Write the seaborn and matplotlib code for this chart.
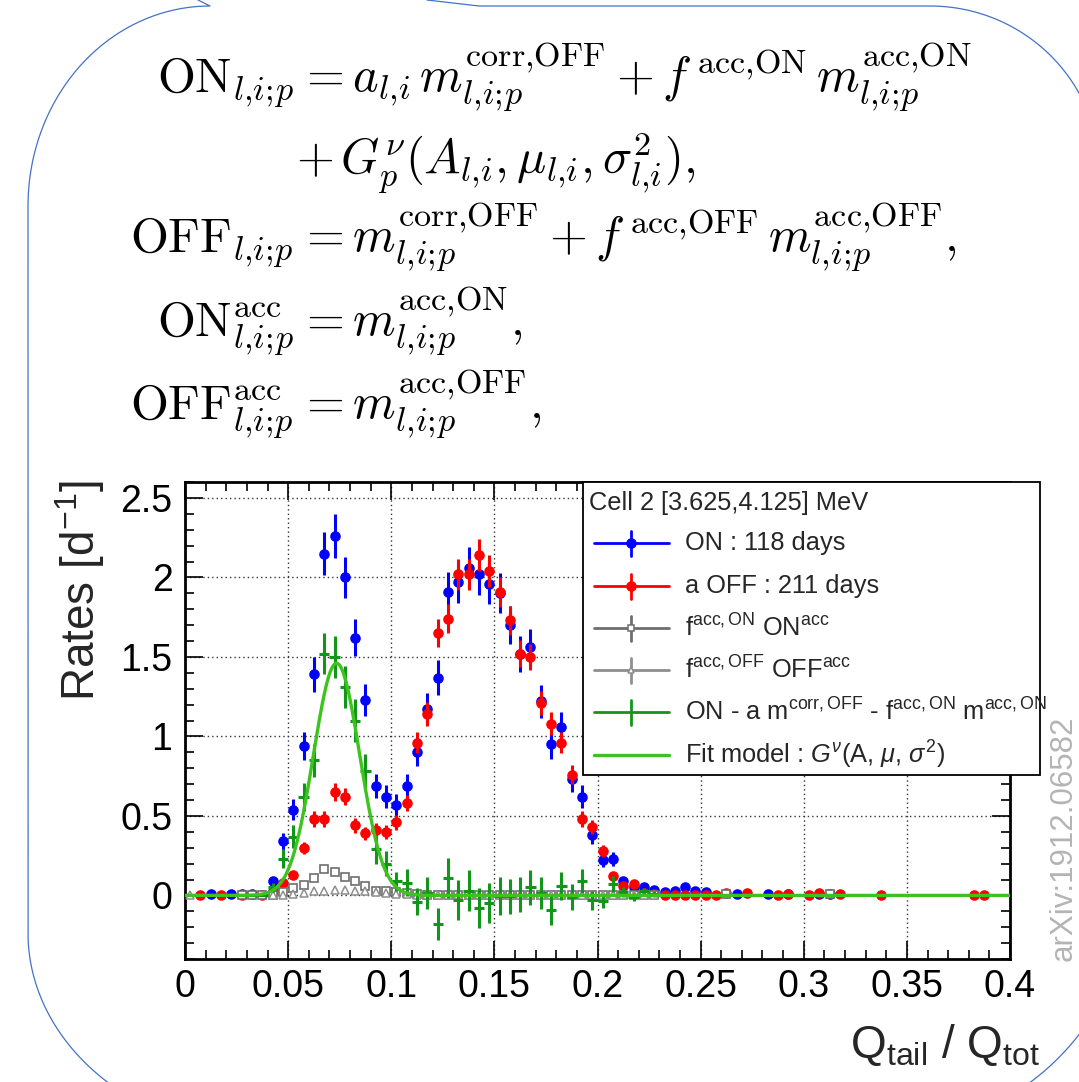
import numpy as np
import pandas as pd
import matplotlib
matplotlib.use("Agg")
import matplotlib.pyplot as plt
import seaborn as sns
from matplotlib.patches import Rectangle
from matplotlib.ticker import MultipleLocator, FuncFormatter

# ---------------------------------------------------------------- data
nan = np.nan
BIN_WIDTH = 0.005
# bin centres of the Q_tail/Q_tot histogram (0.0025 ... 0.2275)
q_bins = np.round(0.0025 + BIN_WIDTH * np.arange(46), 4)

# ON data, 118 days [1/day]
on_rate = [nan, nan, 0.01, nan, 0.01, 0.01, 0.01, nan, 0.09, 0.34,
           0.54, 0.94, 1.39, 2.15, 2.26, 2.00, 1.62, 1.23, 0.69, 0.62,
           0.57, 0.69, 0.90, 1.17, 1.37, 1.91, 1.97, 2.06, 2.02, 1.96,
           1.90, 1.70, 1.52, 1.56, 1.22, 0.95, 1.06, 0.73, 0.62, 0.38,
           0.22, 0.23, 0.09, 0.05, 0.05, 0.035]
on_err = [nan, nan, 0.009, nan, 0.009, 0.009, 0.009, nan, 0.028, 0.054,
          0.068, 0.089, 0.109, 0.135, 0.138, 0.130, 0.117, 0.102, 0.076, 0.072,
          0.070, 0.076, 0.087, 0.100, 0.108, 0.127, 0.129, 0.132, 0.131, 0.129,
          0.127, 0.120, 0.113, 0.115, 0.102, 0.090, 0.095, 0.079, 0.072, 0.057,
          0.043, 0.044, 0.028, 0.021, 0.021, 0.017]

# scaled OFF data, 211 days
off_rate = [nan, 0.005, nan, 0.005, nan, 0.005, nan, 0.005, 0.03, 0.08,
            0.13, 0.30, 0.48, 0.48, 0.65, 0.62, 0.44, 0.39, 0.41, 0.40,
            0.46, 0.58, 0.96, 1.14, 1.65, 1.74, 2.02, 2.02, 2.14, 2.04,
            1.91, 1.73, 1.52, 1.50, 1.21, 1.08, 0.96, 0.76, 0.48, 0.43,
            0.28, 0.12, 0.06, 0.07, 0.015, 0.01]
off_err = [nan, 0.005, nan, 0.005, nan, 0.005, nan, 0.005, 0.012, 0.019,
           0.025, 0.038, 0.048, 0.048, 0.056, 0.054, 0.046, 0.043, 0.044, 0.044,
           0.047, 0.052, 0.067, 0.074, 0.088, 0.091, 0.098, 0.098, 0.101, 0.098,
           0.095, 0.091, 0.085, 0.084, 0.076, 0.072, 0.067, 0.060, 0.048, 0.045,
           0.036, 0.024, 0.017, 0.018, 0.008, 0.007]

# sparse high-Q_tail bins
on_tail_q = [0.2325, 0.2375, 0.2425, 0.2475, 0.2525, 0.2675, 0.2825, 0.2925, 0.3075, 0.3125]
on_tail_rate = [0.02, 0.025, 0.05, 0.025, 0.02, 0.01, 0.01, 0.01, 0.01, 0.01]
on_tail_err = [0.013, 0.015, 0.021, 0.015, 0.013, 0.009, 0.009, 0.009, 0.009, 0.009]
off_tail_q = [0.2325, 0.2375, 0.2425, 0.2475, 0.2525, 0.2575, 0.2625, 0.2725,
              0.2875, 0.2925, 0.3025, 0.3075, 0.3175, 0.3375, 0.3825, 0.3875]
off_tail_rate = [0.005, 0.003, 0.003, 0.003, 0.004, 0.004, 0.015, 0.015,
                 0.004, 0.008, 0.004, 0.015, 0.008, 0.004, 0.004, 0.004]
off_tail_err = [0.005] * len(off_tail_rate)

# accidental components
acc_on_rate = [nan, nan, nan, nan, nan, 0.003, 0.003, 0.003, 0.005, 0.02,
               0.045, 0.067, 0.11, 0.165, 0.15, 0.115, 0.088, 0.056, 0.025, 0.03,
               0.02, 0.015, 0.01, 0.005, 0.005, 0.005, 0.005, 0.005, 0.005, 0.005,
               0.003, 0.003, 0.003, 0.003, 0.003, 0.003, 0.003, 0.003, 0.003, 0.003,
               0.003, 0.003, 0.003, 0.003, 0.003, 0.003]
acc_on_err = [nan, nan, nan, nan, nan, 0.003, 0.003, 0.003, 0.004, 0.008,
              0.012, 0.014, 0.017, 0.02, 0.02, 0.017, 0.015, 0.012, 0.008, 0.009,
              0.007, 0.006, 0.005, 0.004, 0.004, 0.004, 0.004, 0.004, 0.004, 0.004,
              0.003, 0.003, 0.003, 0.003, 0.003, 0.003, 0.003, 0.003, 0.003, 0.003,
              0.003, 0.003, 0.003, 0.003, 0.003, 0.003]
acc_on_tail_q = [0.2625, 0.3125]
acc_on_tail_rate = [0.008, 0.008]
acc_on_tail_err = [0.004, 0.004]

acc_off_rate = [0.005, nan, nan, nan, nan, nan, nan, nan, 0.003, 0.005,
                0.01, 0.015, 0.025, 0.03, 0.035, 0.035, 0.03, 0.025, 0.02, 0.015,
                0.01, 0.008, 0.005, 0.005, 0.005, 0.005, 0.005, 0.005, 0.005, 0.005,
                0.003, 0.003, 0.003, 0.003, 0.003, 0.003, 0.003, 0.003, 0.003, 0.003,
                0.003, 0.003, 0.003, 0.003, 0.003, 0.003]
acc_off_err = [0.003, nan, nan, nan, nan, nan, nan, nan, 0.002, 0.003,
               0.004, 0.005, 0.006, 0.007, 0.007, 0.007, 0.007, 0.006, 0.006, 0.005,
               0.004, 0.004, 0.003, 0.003, 0.003, 0.003, 0.003, 0.003, 0.003, 0.003,
               0.002, 0.002, 0.002, 0.002, 0.002, 0.002, 0.002, 0.002, 0.002, 0.002,
               0.002, 0.002, 0.002, 0.002, 0.002, 0.002]

# ON - a m^corr,OFF - f^acc,ON m^acc,ON
nu_rate = [0.0, 0.0, 0.0, 0.0, 0.0, 0.0, 0.0, 0.0, 0.05, 0.23,
           0.37, 0.62, 0.85, 1.52, 1.50, 1.31, 1.10, 0.78, 0.29, 0.20,
           0.09, 0.08, -0.04, 0.015, -0.18, 0.11, -0.03, 0.03, -0.08, -0.05,
           -0.006, -0.006, 0.004, 0.05, 0.015, -0.09, 0.06, -0.01, 0.09, -0.03,
           -0.035, 0.07, 0.02, -0.01, 0.025, 0.01]
nu_err = [0.005] * 8 + [0.03, 0.06, 0.075, 0.09, 0.105, 0.13, 0.13, 0.13, 0.135, 0.11,
                        0.09, 0.08, 0.06, 0.085, 0.085, 0.10, 0.10, 0.125, 0.125, 0.13,
                        0.125, 0.125, 0.12, 0.11, 0.11, 0.11, 0.10, 0.095, 0.09, 0.08,
                        0.075, 0.06, 0.045, 0.05, 0.03, 0.025, 0.02, 0.018]

# Gaussian fit of the neutrino component
fit_amplitude = 1.46
fit_mu = 0.0735
fit_sigma = 0.0112

# ---------------------------------------------------------------- style
sns.set_theme(style="ticks")
plt.rcParams["font.family"] = ["Liberation Sans", "DejaVu Sans"]
plt.rcParams["mathtext.fontset"] = "custom"
plt.rcParams["mathtext.rm"] = "Liberation Sans"
plt.rcParams["mathtext.it"] = "Liberation Sans:italic"
plt.rcParams["mathtext.bf"] = "Liberation Sans:bold"
plt.rcParams["mathtext.sf"] = "Liberation Sans"

C_ON = "#0000ff"
C_OFF = "#ff0000"
C_ACC_ON = "#6e6e6e"
C_ACC_OFF = "#8e8e8e"
C_NU = "#11961a"
C_FIT = "#3cc31e"
C_SHAPE = "#4472c4"

W, H = 1079, 1082
fig = plt.figure(figsize=(W / 100, H / 100), dpi=100)
fig.patch.set_facecolor("white")

# decorative frame of the slide (pixel coordinates)
deco = fig.add_axes([0, 0, 1, 1], zorder=0)
deco.set_xlim(0, W)
deco.set_ylim(H, 0)
deco.axis("off")

t = np.linspace(np.pi / 2, 0, 80)
xs = [198] + list(210 - 182 * np.cos(t))
ys = [0] + list(206 - 200 * np.sin(t))
t2 = np.linspace(0, 0.84, 60)
xs += [28] + list(278 - 250 * np.cos(t2))
ys += [933] + list(933 + 204 * np.sin(t2))
deco.plot(xs, ys, color=C_SHAPE, lw=0.9)

t3 = np.linspace(0, 1.2, 60)
xs = [427, 479, 930] + list(930 + 170 * np.sin(t3))
ys = [0, 6, 6] + list(174 - 168 * np.cos(t3))
deco.plot(xs, ys, color=C_SHAPE, lw=0.9)

t4 = np.linspace(0.55, 1.0, 40)
deco.plot(880 + 252 * np.cos(t4), 880 + 252 * np.sin(t4), color=C_SHAPE, lw=0.9)

# equations
EQ_FS = 35
SUB = r"{l{,}i;\!p}"
LI = r"{l{,}i}"


def eq(x, y, s, ha):
    fig.text(x / W, 1 - y / H, s, ha=ha, va="baseline", fontsize=EQ_FS,
             math_fontfamily="cm", color="black")


eq(294, 93, rf"$\mathrm{{ON}}_{SUB}$", "right")
eq(298, 93, rf"$= a_{LI}\,m_{SUB}^{{\mathrm{{corr{{,}}OFF}}}} + f^{{\,\mathrm{{acc{{,}}ON}}}}\,m_{SUB}^{{\mathrm{{acc{{,}}ON}}}}$", "left")
eq(296, 175, rf"$+\,G_p^{{\nu}}(A_{LI},\mu_{LI},\sigma_{LI}^{{2}}),$", "left")
eq(294, 253, rf"$\mathrm{{OFF}}_{SUB}$", "right")
eq(298, 253, rf"$= m_{SUB}^{{\mathrm{{corr{{,}}OFF}}}} + f^{{\,\mathrm{{acc{{,}}OFF}}}}\,m_{SUB}^{{\mathrm{{acc{{,}}OFF}}}},$", "left")
eq(294, 337, rf"$\mathrm{{ON}}_{SUB}^{{\mathrm{{acc}}}}$", "right")
eq(298, 337, rf"$= m_{SUB}^{{\mathrm{{acc{{,}}ON}}}},$", "left")
eq(294, 420, rf"$\mathrm{{OFF}}_{SUB}^{{\mathrm{{acc}}}}$", "right")
eq(298, 420, rf"$= m_{SUB}^{{\mathrm{{acc{{,}}OFF}}}},$", "left")

# ---------------------------------------------------------------- histogram panel
ax = fig.add_axes([185 / W, 1 - 959 / H, 825 / W, 477 / H], zorder=1)
ax.set_facecolor("white")

df_on = pd.DataFrame({"q": np.concatenate([q_bins, on_tail_q]),
                      "rate": np.concatenate([on_rate, on_tail_rate]),
                      "err": np.concatenate([on_err, on_tail_err])}).dropna()
df_off = pd.DataFrame({"q": np.concatenate([q_bins, off_tail_q]),
                       "rate": np.concatenate([off_rate, off_tail_rate]),
                       "err": np.concatenate([off_err, off_tail_err])}).dropna()
df_acc_on = pd.DataFrame({"q": np.concatenate([q_bins, acc_on_tail_q]),
                          "rate": np.concatenate([acc_on_rate, acc_on_tail_rate]),
                          "err": np.concatenate([acc_on_err, acc_on_tail_err])}).dropna()
df_acc_off = pd.DataFrame({"q": q_bins, "rate": acc_off_rate, "err": acc_off_err}).dropna()
df_nu = pd.DataFrame({"q": q_bins, "rate": nu_rate, "err": nu_err})

ax.errorbar(df_on.q, df_on.rate, yerr=df_on.err, fmt="none", ecolor=C_ON,
            elinewidth=2.2, zorder=3)
sns.scatterplot(data=df_on, x="q", y="rate", color=C_ON, s=58, linewidth=0,
                ax=ax, zorder=3, legend=False)
ax.errorbar(df_off.q, df_off.rate, yerr=df_off.err, fmt="none", ecolor=C_OFF,
            elinewidth=2.2, zorder=3.1)
sns.scatterplot(data=df_off, x="q", y="rate", color=C_OFF, s=58, linewidth=0,
                ax=ax, zorder=3.1, legend=False)
ax.errorbar(df_acc_on.q, df_acc_on.rate, yerr=df_acc_on.err, fmt="s", ms=6.3,
            mfc="white", mec=C_ACC_ON, mew=1.2, ecolor=C_ACC_ON, elinewidth=1.2,
            zorder=3.2)
ax.errorbar(df_acc_off.q, df_acc_off.rate, yerr=df_acc_off.err, fmt="^", ms=5.5,
            mfc="white", mec=C_ACC_OFF, mew=1.1, ecolor=C_ACC_OFF, elinewidth=1.1,
            zorder=3.3)
ax.errorbar(df_nu.q, df_nu.rate, yerr=df_nu.err, xerr=BIN_WIDTH / 2, fmt="none",
            ecolor=C_NU, elinewidth=2.2, zorder=3.4)

q_fine = np.linspace(0.0, 0.4, 800)
fit_curve = fit_amplitude * np.exp(-0.5 * ((q_fine - fit_mu) / fit_sigma) ** 2)
sns.lineplot(x=q_fine, y=fit_curve, color=C_FIT, lw=2.4, ax=ax, zorder=3.5,
             legend=False)

ax.set_xlim(0, 0.4)
ax.set_ylim(-0.4, 2.6)
ax.xaxis.set_major_locator(MultipleLocator(0.05))
ax.xaxis.set_minor_locator(MultipleLocator(0.01))
ax.yaxis.set_major_locator(MultipleLocator(0.5))
ax.yaxis.set_minor_locator(MultipleLocator(0.1))
fmt = FuncFormatter(lambda v, p: f"{v:g}" if abs(v) > 1e-9 else "0")
ax.xaxis.set_major_formatter(fmt)
ax.yaxis.set_major_formatter(fmt)
ax.tick_params(which="both", direction="in", top=True, right=True,
               colors="black", labelsize=27, width=1.2)
ax.tick_params(which="major", length=13)
ax.tick_params(which="minor", length=6.5)
ax.tick_params(axis="x", pad=7)
ax.tick_params(axis="y", pad=9)
ax.grid(True, which="major", ls=(0, (1, 2.2)), color="#333333", lw=1.0)
for s in ax.spines.values():
    s.set_color("black")
    s.set_linewidth(2)
ax.set_xlabel("")
ax.set_ylabel("")

fig.text(1040 / W, 1 - 1058 / H, r"Q$_{\mathrm{tail}}$ / Q$_{\mathrm{tot}}$",
         ha="right", va="baseline", fontsize=33)
fig.text(80 / W, 1 - 480 / H, r"Rates [d$^{-1}$]", rotation=90, ha="center",
         va="top", fontsize=33)

# ---------------------------------------------------------------- legend box
top = fig.add_axes([0, 0, 1, 1], zorder=3)
top.set_xlim(0, W)
top.set_ylim(H, 0)
top.axis("off")
top.add_patch(Rectangle((583, 482), 457, 293, facecolor="white",
                        edgecolor="black", lw=1.3))
LEG_FS = 18.3
top.text(589, 503, "Cell 2 [3.625,4.125] MeV", fontsize=LEG_FS, va="center",
         ha="left")
entries = [
    (543, C_ON, "o", C_ON, C_ON, 6.5, "ON : 118 days"),
    (586, C_OFF, "o", C_OFF, C_OFF, 6.5, "a OFF : 211 days"),
    (628, C_ACC_ON, "s", "white", C_ACC_ON, 4.5,
     r"f$^{\mathrm{acc,ON}}$ ON$^{\mathrm{acc}}$"),
    (670, C_ACC_OFF, "^", "white", C_ACC_OFF, 4,
     r"f$^{\mathrm{acc,OFF}}$ OFF$^{\mathrm{acc}}$"),
    (712, C_NU, None, None, None, 0,
     r"ON - a m$^{\mathrm{corr,OFF}}$ - f$^{\mathrm{acc,ON}}$ m$^{\mathrm{acc,ON}}$"),
]
for yc, col, mk, mfc, mec, ms, label in entries:
    top.plot([594, 669], [yc, yc], color=col, lw=2.0)
    top.plot([631, 631], [yc - 12.5, yc + 12.5], color=col, lw=2.0)
    if mk is not None:
        top.plot([631], [yc], marker=mk, ms=ms, mfc=mfc, mec=mec, mew=1.1)
    top.text(685, yc, label, fontsize=LEG_FS, va="center", ha="left")
top.plot([594, 669], [755, 755], color=C_FIT, lw=2.4)
top.text(685, 755, r"Fit model : $G^{\nu}$(A, $\mu$, $\sigma^{2}$)",
         fontsize=LEG_FS, va="center", ha="left")

# arXiv stamp
fig.text(1064 / W, 1 - 838 / H, "arXiv:1912.06582", rotation=90, ha="center",
         va="center", fontsize=22.5, color="#b4b4b4")

fig.savefig("out.png", dpi=100, facecolor="white")
